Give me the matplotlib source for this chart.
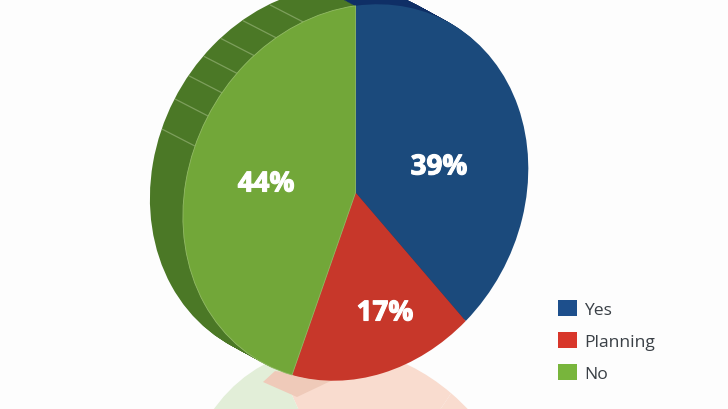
import numpy as np
import matplotlib
matplotlib.use("Agg")
import matplotlib.pyplot as plt
import matplotlib.patheffects as pe
from matplotlib.transforms import Affine2D
from matplotlib.patches import Patch

categories = ["Yes", "Planning", "No"]
values = [39, 17, 44]
labels = ["39%", "17%", "44%"]
label_xy = [(439, 168), (385, 314), (266, 185)]
colors = ["#1b4a7c", "#c7372a", "#72a739"]
side_colors = ["#0f2f66", "#8f2a20", "#4b7826"]
refl_colors = ["#f9dccf", "#f9dccf", "#e2eed8"]
legend_colors = ["#1d4f8c", "#d8362a", "#78b53c"]
rib_angles = [291.6, 301.3, 309.3, 316.6, 324.0, 332.6, 342.3]

CX, CY = 355.6, 193.5
SHIFT = (-33, -18)
MIRROR_Y = 365

fig = plt.figure(figsize=(7.28, 4.10), dpi=100, facecolor="#fdfdfd")
ax = fig.add_axes([0, 0, 1, 1])


def unit_to_px(dx=0, dy=0):
    # unit circle -> tilted ellipse in pixel coordinates
    m = np.array([[172.7, 0, CX + dx], [-24.0, -186.7, CY + dy], [0, 0, 1]])
    return Affine2D(m)


def mirror():
    return Affine2D().scale(1, -1).translate(0, 2 * MIRROR_Y)


def draw_pie(tr, cols, z, startangle=90, **kw):
    wedges, _ = ax.pie(values, colors=cols, startangle=startangle, counterclock=False,
                       radius=1, center=(0, 0), wedgeprops=dict(linewidth=0, **kw))
    for w in wedges:
        w.set_transform(tr + ax.transData)
        w.set_zorder(z)
    return wedges


# reflection under the pie
draw_pie(unit_to_px() + mirror(), refl_colors, 1, startangle=84)
ax.fill([275, 263, 297, 335], [372, 383, 398, 380], color="#efcab9", lw=0, zorder=2)

# extruded side
for s in np.linspace(1, 0.05, 24):
    draw_pie(unit_to_px(SHIFT[0] * s, SHIFT[1] * s), side_colors, 3)

# ribs on the side wall
base = unit_to_px()
for a in rib_angles:
    t = np.deg2rad(a)
    p = base.transform((np.sin(t), np.cos(t)))
    ax.plot([p[0], p[0] + SHIFT[0]], [p[1], p[1] + SHIFT[1] + 1],
            color="#7d9f5c", lw=0.9, zorder=4, solid_capstyle="butt")

# face
wedges = draw_pie(unit_to_px(), colors, 5)
wedges[2].set_edgecolor("#93bb66")
wedges[2].set_linewidth(0.6)
ax.set_xlim(0, 728)
ax.set_ylim(410, 0)
ax.set_aspect("auto")
ax.set_axis_off()

for txt, (x, y) in zip(labels, label_xy):
    t = ax.text(x, y, txt, color="white", fontsize=20, fontweight="bold",
                family="Open Sans", ha="center", va="center", zorder=6)
    t.set_path_effects([pe.withStroke(linewidth=0.8, foreground="white")])

handles = [Patch(facecolor=c, edgecolor="none") for c in legend_colors]
ax.legend(handles, categories, loc="upper left", bbox_to_anchor=(551 / 728, 1 - 293.5 / 410),
          bbox_transform=ax.transAxes, frameon=False,
          handlelength=1.09, handleheight=1.06, handletextpad=0.42, labelspacing=0.8,
          borderpad=0.4, borderaxespad=0, prop={"family": "Open Sans", "size": 12.6},
          labelcolor="#3a4046")

fig.savefig("out.png", dpi=100, facecolor=fig.get_facecolor())
